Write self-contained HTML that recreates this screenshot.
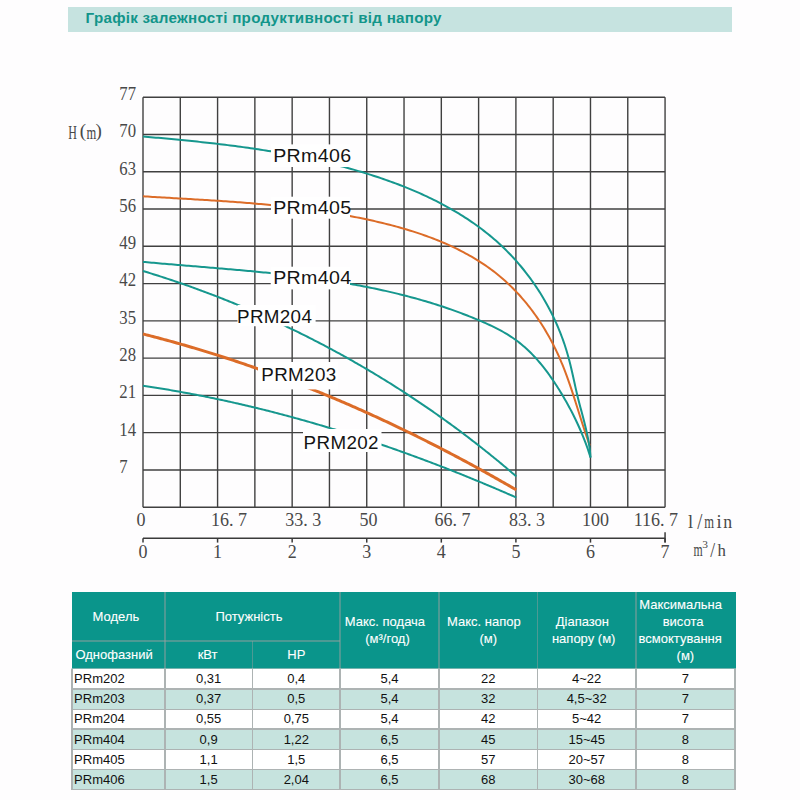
<!DOCTYPE html>
<html><head><meta charset="utf-8">
<style>
html,body{margin:0;padding:0;background:#fefdfe;width:800px;height:800px;overflow:hidden;position:relative}
.title{position:absolute;left:68px;top:6.6px;width:663.5px;height:25px;background:#c6e3e0}
.title span{position:absolute;left:17.6px;top:2.7px;font:bold 15.2px "Liberation Sans",sans-serif;letter-spacing:0.26px;color:#12958a;white-space:nowrap}
.lb{font-family:"Liberation Sans",sans-serif;font-size:18px;fill:#141414}
.ax{font-family:"Liberation Serif",serif;font-size:18px;fill:#484848}
.hm{font-size:16px}
.c{position:absolute;box-sizing:border-box;display:flex;align-items:center;justify-content:center;text-align:center;font:13px/16.8px "Liberation Sans",sans-serif}
.ln{position:absolute}
</style></head><body>
<div class="title"><span>Графік залежності продуктивності від напору</span></div>
<svg width="800" height="800" viewBox="0 0 800 800" style="position:absolute;left:0;top:0">
<g stroke="#404040" stroke-width="1.4">
<line x1="143.00" y1="97.23" x2="143.00" y2="507.20"/>
<line x1="180.29" y1="97.23" x2="180.29" y2="507.20"/>
<line x1="217.58" y1="97.23" x2="217.58" y2="507.20"/>
<line x1="254.87" y1="97.23" x2="254.87" y2="507.20"/>
<line x1="292.16" y1="97.23" x2="292.16" y2="507.20"/>
<line x1="329.45" y1="97.23" x2="329.45" y2="507.20"/>
<line x1="366.74" y1="97.23" x2="366.74" y2="507.20"/>
<line x1="404.03" y1="97.23" x2="404.03" y2="507.20"/>
<line x1="441.32" y1="97.23" x2="441.32" y2="507.20"/>
<line x1="478.61" y1="97.23" x2="478.61" y2="507.20"/>
<line x1="515.90" y1="97.23" x2="515.90" y2="507.20"/>
<line x1="553.19" y1="97.23" x2="553.19" y2="507.20"/>
<line x1="590.48" y1="97.23" x2="590.48" y2="507.20"/>
<line x1="627.77" y1="97.23" x2="627.77" y2="507.20"/>
<line x1="665.06" y1="97.23" x2="665.06" y2="507.20"/>
<line x1="143.00" y1="507.20" x2="665.06" y2="507.20"/>
<line x1="143.00" y1="469.93" x2="665.06" y2="469.93"/>
<line x1="143.00" y1="432.66" x2="665.06" y2="432.66"/>
<line x1="143.00" y1="395.39" x2="665.06" y2="395.39"/>
<line x1="143.00" y1="358.12" x2="665.06" y2="358.12"/>
<line x1="143.00" y1="320.85" x2="665.06" y2="320.85"/>
<line x1="143.00" y1="283.58" x2="665.06" y2="283.58"/>
<line x1="143.00" y1="246.31" x2="665.06" y2="246.31"/>
<line x1="143.00" y1="209.04" x2="665.06" y2="209.04"/>
<line x1="143.00" y1="171.77" x2="665.06" y2="171.77"/>
<line x1="143.00" y1="134.50" x2="665.06" y2="134.50"/>
<line x1="143.00" y1="97.23" x2="665.06" y2="97.23"/>
</g>
<path d="M142.99,196.30 L145.38,196.44 L147.77,196.59 L150.16,196.73 L152.54,196.88 L154.92,197.02 L157.31,197.16 L159.69,197.30 L162.07,197.44 L164.44,197.58 L166.82,197.72 L169.20,197.85 L171.57,197.99 L173.94,198.13 L176.31,198.27 L178.68,198.40 L181.05,198.54 L183.42,198.68 L185.79,198.82 L188.15,198.96 L190.52,199.10 L192.88,199.24 L195.24,199.38 L197.60,199.52 L199.96,199.66 L202.32,199.81 L204.68,199.95 L207.04,200.10 L209.39,200.25 L211.75,200.40 L214.10,200.55 L216.46,200.71 L218.81,200.86 L221.16,201.02 L223.51,201.18 L225.86,201.34 L228.21,201.50 L230.56,201.67 L232.91,201.84 L235.26,202.01 L237.60,202.19 L239.95,202.36 L242.29,202.55 L244.64,202.73 L246.98,202.92 L249.32,203.11 L251.67,203.30 L254.01,203.50 L256.35,203.70 L258.69,203.90 L261.03,204.11 L263.37,204.32 L265.71,204.54 L268.05,204.76 L270.39,204.99 L272.73,205.22 L275.07,205.45 L277.41,205.69 L279.75,205.93 L282.08,206.18 L284.42,206.44 L286.76,206.70 L289.09,206.96 L291.43,207.23 L293.77,207.50 L296.10,207.78 L298.44,208.07 L300.77,208.36 L303.11,208.66 L305.45,208.96 L307.78,209.27 L310.12,209.59 L312.45,209.91 L314.79,210.24 L317.13,210.57 L319.46,210.91 L321.80,211.26 L324.13,211.61 L326.47,211.98 L328.81,212.34 L331.14,212.72 L333.48,213.10 L335.82,213.49 L338.15,213.89 L340.49,214.30 L342.83,214.71 L345.17,215.13 L347.50,215.56 L349.84,216.00 L352.18,216.44 L354.52,216.90 L356.86,217.36 L359.20,217.83 L361.54,218.31 L363.88,218.80 L366.22,219.29 L368.57,219.80 L370.91,220.31 L373.25,220.84 L375.59,221.37 L377.93,221.91 L380.27,222.47 L382.61,223.03 L384.95,223.60 L387.29,224.19 L389.62,224.78 L391.95,225.39 L394.28,226.01 L396.60,226.64 L398.92,227.28 L401.24,227.94 L403.55,228.60 L405.86,229.28 L408.17,229.98 L410.46,230.68 L412.76,231.40 L415.05,232.13 L417.33,232.88 L419.61,233.64 L421.88,234.41 L424.14,235.20 L426.39,236.00 L428.64,236.82 L430.88,237.66 L433.12,238.51 L435.34,239.37 L437.56,240.25 L439.76,241.15 L441.96,242.06 L444.15,242.99 L446.33,243.94 L448.49,244.90 L450.65,245.88 L452.80,246.88 L454.94,247.90 L457.06,248.93 L459.17,249.99 L461.27,251.06 L463.36,252.15 L465.44,253.26 L467.50,254.38 L469.55,255.53 L471.59,256.70 L473.61,257.88 L475.62,259.09 L477.61,260.32 L479.59,261.57 L481.55,262.83 L483.50,264.12 L485.44,265.43 L487.35,266.77 L489.26,268.12 L491.14,269.50 L493.01,270.90 L494.86,272.32 L496.69,273.76 L498.51,275.23 L500.30,276.71 L502.08,278.23 L503.84,279.76 L505.59,281.32 L507.31,282.90 L509.01,284.50 L510.70,286.12 L512.37,287.77 L514.02,289.43 L515.65,291.12 L517.26,292.82 L518.86,294.55 L520.43,296.29 L521.99,298.05 L523.52,299.84 L525.04,301.64 L526.54,303.45 L528.02,305.29 L529.48,307.14 L530.92,309.01 L532.35,310.90 L533.75,312.80 L535.13,314.72 L536.50,316.66 L537.84,318.61 L539.17,320.58 L540.48,322.56 L541.76,324.55 L543.03,326.56 L544.28,328.58 L545.51,330.62 L546.71,332.66 L547.90,334.73 L549.07,336.80 L550.22,338.88 L551.35,340.98 L552.46,343.09 L553.54,345.21 L554.61,347.34 L555.66,349.48 L556.69,351.63 L557.70,353.79 L558.68,355.96 L559.65,358.14 L560.60,360.32 L561.52,362.52 L562.43,364.72 L563.32,366.93 L564.20,369.15 L565.06,371.37 L565.90,373.60 L566.73,375.83 L567.54,378.07 L568.34,380.32 L569.13,382.57 L569.91,384.82 L570.68,387.08 L571.44,389.33 L572.19,391.60 L572.93,393.86 L573.66,396.12 L574.39,398.39 L575.12,400.66 L575.84,402.93 L576.55,405.19 L577.27,407.46 L577.98,409.73 L578.69,411.99 L579.40,414.25 L580.11,416.51 L580.82,418.77 L581.54,421.03 L582.25,423.28 L582.98,425.52 L583.70,427.77 L584.43,430.00 L585.17,432.24 L585.92,434.46 L586.67,436.68 L587.44,438.90 L588.21,441.11 L589.00,443.30 L589.79,445.50" stroke="#dc6c28" stroke-width="2.0" fill="none" stroke-linejoin="round"/>
<path d="M142.99,136.50 L145.58,136.72 L148.16,136.95 L150.74,137.18 L153.32,137.40 L155.90,137.63 L158.48,137.86 L161.06,138.10 L163.64,138.33 L166.21,138.57 L168.79,138.81 L171.36,139.05 L173.93,139.29 L176.51,139.53 L179.08,139.78 L181.65,140.03 L184.21,140.28 L186.78,140.54 L189.35,140.80 L191.91,141.06 L194.48,141.33 L197.04,141.59 L199.60,141.87 L202.16,142.14 L204.72,142.42 L207.28,142.70 L209.84,142.99 L212.39,143.28 L214.95,143.58 L217.50,143.88 L220.05,144.18 L222.61,144.49 L225.16,144.80 L227.71,145.12 L230.25,145.44 L232.80,145.77 L235.35,146.10 L237.89,146.44 L240.43,146.78 L242.98,147.13 L245.52,147.49 L248.06,147.85 L250.60,148.21 L253.13,148.59 L255.67,148.96 L258.20,149.35 L260.74,149.74 L263.27,150.13 L265.80,150.54 L268.33,150.95 L270.86,151.36 L273.39,151.79 L275.91,152.22 L278.44,152.65 L280.96,153.10 L283.48,153.55 L286.01,154.01 L288.53,154.48 L291.04,154.95 L293.56,155.43 L296.08,155.92 L298.59,156.42 L301.10,156.93 L303.62,157.44 L306.13,157.97 L308.64,158.50 L311.15,159.04 L313.65,159.59 L316.16,160.14 L318.66,160.71 L321.16,161.29 L323.67,161.87 L326.17,162.47 L328.66,163.07 L331.16,163.68 L333.66,164.31 L336.15,164.94 L338.65,165.58 L341.14,166.23 L343.63,166.90 L346.12,167.57 L348.60,168.25 L351.09,168.95 L353.58,169.65 L356.06,170.37 L358.54,171.09 L361.02,171.83 L363.50,172.58 L365.98,173.34 L368.45,174.11 L370.93,174.89 L373.40,175.68 L375.87,176.49 L378.34,177.31 L380.80,178.14 L383.27,178.98 L385.72,179.83 L388.18,180.70 L390.63,181.58 L393.07,182.47 L395.51,183.38 L397.95,184.30 L400.38,185.23 L402.81,186.18 L405.23,187.14 L407.64,188.12 L410.05,189.11 L412.45,190.11 L414.84,191.13 L417.23,192.16 L419.61,193.21 L421.98,194.27 L424.34,195.35 L426.69,196.44 L429.04,197.55 L431.38,198.68 L433.70,199.82 L436.02,200.97 L438.33,202.15 L440.62,203.34 L442.91,204.54 L445.19,205.77 L447.45,207.01 L449.70,208.26 L451.95,209.54 L454.18,210.83 L456.39,212.14 L458.60,213.47 L460.79,214.81 L462.97,216.18 L465.13,217.56 L467.29,218.96 L469.42,220.38 L471.55,221.82 L473.65,223.27 L475.75,224.75 L477.83,226.25 L479.89,227.76 L481.94,229.30 L483.97,230.85 L485.98,232.43 L487.98,234.02 L489.96,235.64 L491.93,237.27 L493.87,238.93 L495.80,240.61 L497.71,242.31 L499.60,244.03 L501.48,245.77 L503.33,247.53 L505.17,249.32 L506.98,251.12 L508.78,252.95 L510.55,254.79 L512.31,256.66 L514.05,258.54 L515.77,260.44 L517.46,262.37 L519.14,264.31 L520.80,266.27 L522.43,268.25 L524.05,270.25 L525.64,272.26 L527.21,274.29 L528.77,276.34 L530.30,278.41 L531.80,280.49 L533.29,282.59 L534.75,284.71 L536.20,286.84 L537.62,288.99 L539.01,291.15 L540.39,293.33 L541.74,295.52 L543.07,297.73 L544.37,299.95 L545.66,302.19 L546.92,304.44 L548.15,306.70 L549.36,308.98 L550.55,311.27 L551.71,313.57 L552.85,315.88 L553.97,318.21 L555.06,320.55 L556.13,322.90 L557.17,325.26 L558.18,327.64 L559.17,330.02 L560.14,332.42 L561.08,334.82 L561.99,337.24 L562.88,339.66 L563.74,342.10 L564.58,344.54 L565.38,347.00 L566.17,349.46 L566.92,351.93 L567.65,354.41 L568.35,356.90 L569.03,359.39 L569.68,361.89 L570.31,364.40 L570.91,366.91 L571.50,369.43 L572.08,371.95 L572.65,374.48 L573.21,377.00 L573.76,379.53 L574.32,382.06 L574.87,384.58 L575.43,387.10 L576.00,389.62 L576.58,392.14 L577.17,394.65 L577.78,397.16 L578.41,399.66 L579.05,402.15 L579.70,404.65 L580.35,407.13 L581.01,409.62 L581.67,412.11 L582.33,414.59 L582.99,417.08 L583.64,419.56 L584.28,422.05 L584.90,424.54 L585.51,427.03 L586.10,429.53 L586.67,432.03 L587.21,434.54 L587.73,437.05 L588.21,439.58 L588.66,442.11 L589.08,444.64 L589.45,447.19 L589.79,449.75 L590.07,452.32 L590.31,454.90 L590.50,457.50" stroke="#16978e" stroke-width="2.0" fill="none" stroke-linejoin="round"/>
<path d="M143.01,261.88 L145.18,262.08 L147.35,262.28 L149.52,262.48 L151.69,262.67 L153.87,262.87 L156.04,263.06 L158.22,263.25 L160.40,263.44 L162.57,263.63 L164.75,263.81 L166.93,264.00 L169.12,264.19 L171.30,264.37 L173.48,264.55 L175.66,264.74 L177.85,264.92 L180.04,265.10 L182.22,265.28 L184.41,265.47 L186.60,265.65 L188.79,265.83 L190.98,266.01 L193.17,266.19 L195.36,266.37 L197.55,266.55 L199.74,266.73 L201.94,266.91 L204.13,267.09 L206.33,267.28 L208.52,267.46 L210.72,267.64 L212.91,267.83 L215.11,268.01 L217.30,268.20 L219.50,268.38 L221.70,268.57 L223.90,268.76 L226.09,268.95 L228.29,269.14 L230.49,269.33 L232.69,269.52 L234.89,269.71 L237.09,269.91 L239.29,270.11 L241.49,270.31 L243.68,270.51 L245.88,270.71 L248.08,270.91 L250.28,271.12 L252.48,271.33 L254.68,271.54 L256.88,271.75 L259.08,271.96 L261.28,272.18 L263.47,272.40 L265.67,272.62 L267.87,272.85 L270.07,273.07 L272.27,273.30 L274.46,273.54 L276.66,273.77 L278.86,274.01 L281.05,274.25 L283.25,274.50 L285.44,274.74 L287.64,274.99 L289.83,275.25 L292.02,275.51 L294.22,275.77 L296.41,276.03 L298.60,276.30 L300.79,276.57 L302.98,276.85 L305.17,277.13 L307.36,277.41 L309.55,277.70 L311.73,277.99 L313.92,278.29 L316.10,278.59 L318.29,278.89 L320.47,279.20 L322.65,279.51 L324.84,279.83 L327.02,280.15 L329.20,280.48 L331.37,280.81 L333.55,281.15 L335.73,281.49 L337.90,281.84 L340.08,282.19 L342.25,282.54 L344.42,282.91 L346.59,283.27 L348.76,283.65 L350.93,284.03 L353.09,284.41 L355.26,284.80 L357.42,285.20 L359.58,285.60 L361.74,286.00 L363.90,286.42 L366.06,286.84 L368.22,287.26 L370.37,287.69 L372.52,288.13 L374.67,288.57 L376.82,289.02 L378.97,289.48 L381.12,289.94 L383.26,290.41 L385.40,290.89 L387.54,291.37 L389.68,291.86 L391.82,292.36 L393.96,292.86 L396.09,293.37 L398.22,293.89 L400.35,294.42 L402.48,294.95 L404.60,295.49 L406.72,296.04 L408.85,296.60 L410.96,297.16 L413.08,297.73 L415.20,298.31 L417.31,298.89 L419.42,299.49 L421.53,300.09 L423.63,300.70 L425.74,301.32 L427.84,301.95 L429.94,302.58 L432.03,303.23 L434.13,303.88 L436.22,304.54 L438.31,305.21 L440.39,305.88 L442.48,306.57 L444.56,307.27 L446.64,307.97 L448.71,308.69 L450.79,309.41 L452.86,310.14 L454.93,310.88 L456.99,311.63 L459.05,312.39 L461.11,313.16 L463.17,313.94 L465.23,314.73 L467.28,315.52 L469.33,316.33 L471.37,317.15 L473.41,317.98 L475.45,318.82 L477.49,319.66 L479.52,320.52 L481.55,321.39 L483.58,322.27 L485.60,323.17 L487.61,324.07 L489.61,325.00 L491.61,325.94 L493.59,326.90 L495.56,327.88 L497.52,328.87 L499.47,329.89 L501.40,330.94 L503.31,332.00 L505.20,333.10 L507.08,334.21 L508.94,335.36 L510.77,336.54 L512.59,337.74 L514.38,338.98 L516.15,340.24 L517.89,341.55 L519.60,342.88 L521.30,344.24 L522.96,345.64 L524.61,347.06 L526.23,348.52 L527.83,350.00 L529.40,351.51 L530.96,353.04 L532.49,354.60 L534.00,356.19 L535.49,357.79 L536.96,359.43 L538.41,361.08 L539.84,362.75 L541.25,364.45 L542.64,366.16 L544.02,367.89 L545.37,369.64 L546.71,371.41 L548.03,373.20 L549.33,374.99 L550.62,376.81 L551.89,378.63 L553.15,380.47 L554.39,382.32 L555.61,384.18 L556.82,386.06 L558.02,387.94 L559.20,389.83 L560.37,391.73 L561.53,393.64 L562.67,395.55 L563.80,397.47 L564.91,399.40 L566.01,401.33 L567.10,403.27 L568.18,405.22 L569.24,407.17 L570.29,409.13 L571.32,411.09 L572.34,413.06 L573.34,415.03 L574.32,417.01 L575.30,419.00 L576.25,420.99 L577.19,422.98 L578.12,424.98 L579.02,426.98 L579.91,428.99 L580.79,431.00 L581.64,433.02 L582.48,435.04 L583.31,437.06 L584.11,439.09 L584.90,441.12 L585.66,443.16 L586.41,445.20 L587.14,447.24 L587.86,449.28 L588.55,451.33 L589.22,453.38 L589.88,455.44 L590.51,457.49" stroke="#16978e" stroke-width="2.0" fill="none" stroke-linejoin="round"/>
<path d="M143.00,271.00 L144.72,271.52 L146.44,272.05 L148.15,272.58 L149.87,273.11 L151.59,273.64 L153.30,274.18 L155.01,274.72 L156.73,275.27 L158.44,275.81 L160.15,276.36 L161.86,276.91 L163.57,277.47 L165.27,278.03 L166.98,278.59 L168.69,279.15 L170.39,279.72 L172.09,280.29 L173.80,280.87 L175.50,281.44 L177.20,282.02 L178.90,282.60 L180.60,283.19 L182.29,283.78 L183.99,284.37 L185.68,284.96 L187.38,285.56 L189.07,286.16 L190.76,286.76 L192.45,287.37 L194.14,287.98 L195.83,288.59 L197.52,289.21 L199.21,289.82 L200.89,290.45 L202.57,291.07 L204.26,291.70 L205.94,292.33 L207.62,292.96 L209.30,293.59 L210.98,294.23 L212.66,294.87 L214.33,295.52 L216.01,296.17 L217.68,296.82 L219.35,297.47 L221.03,298.13 L222.70,298.78 L224.37,299.45 L226.03,300.11 L227.70,300.78 L229.37,301.45 L231.03,302.12 L232.69,302.80 L234.36,303.48 L236.02,304.16 L237.68,304.85 L239.34,305.53 L240.99,306.23 L242.65,306.92 L244.30,307.62 L245.96,308.32 L247.61,309.02 L249.26,309.72 L250.91,310.43 L252.56,311.14 L254.21,311.86 L255.85,312.57 L257.50,313.29 L259.14,314.02 L260.79,314.74 L262.43,315.47 L264.07,316.20 L265.71,316.93 L267.34,317.67 L268.98,318.41 L270.61,319.15 L272.25,319.90 L273.88,320.65 L275.51,321.40 L277.14,322.15 L278.77,322.91 L280.39,323.67 L282.02,324.43 L283.64,325.19 L285.27,325.96 L286.89,326.73 L288.51,327.51 L290.13,328.28 L291.74,329.06 L293.36,329.85 L294.97,330.63 L296.59,331.42 L298.20,332.21 L299.81,333.00 L301.42,333.80 L303.03,334.60 L304.63,335.40 L306.24,336.20 L307.84,337.01 L309.44,337.82 L311.04,338.63 L312.64,339.45 L314.24,340.27 L315.84,341.09 L317.43,341.91 L319.03,342.74 L320.62,343.57 L322.21,344.40 L323.80,345.24 L325.39,346.07 L326.97,346.91 L328.56,347.76 L330.14,348.60 L331.72,349.45 L333.30,350.30 L334.88,351.16 L336.46,352.01 L338.03,352.87 L339.61,353.74 L341.18,354.60 L342.75,355.47 L344.32,356.34 L345.89,357.21 L347.46,358.09 L349.02,358.97 L350.59,359.85 L352.15,360.74 L353.71,361.62 L355.27,362.51 L356.83,363.40 L358.38,364.30 L359.94,365.20 L361.49,366.10 L363.04,367.00 L364.59,367.91 L366.14,368.82 L367.69,369.73 L369.23,370.64 L370.78,371.56 L372.32,372.48 L373.86,373.40 L375.40,374.33 L376.93,375.25 L378.47,376.18 L380.00,377.12 L381.54,378.05 L383.07,378.99 L384.59,379.93 L386.12,380.87 L387.65,381.82 L389.17,382.77 L390.69,383.72 L392.21,384.67 L393.73,385.63 L395.25,386.59 L396.77,387.55 L398.28,388.52 L399.79,389.49 L401.30,390.46 L402.81,391.43 L404.32,392.40 L405.83,393.38 L407.33,394.36 L408.83,395.35 L410.33,396.33 L411.83,397.32 L413.33,398.31 L414.82,399.31 L416.32,400.30 L417.81,401.30 L419.30,402.30 L420.79,403.31 L422.27,404.31 L423.76,405.32 L425.24,406.33 L426.72,407.35 L428.20,408.37 L429.68,409.39 L431.16,410.41 L432.63,411.43 L434.10,412.46 L435.57,413.49 L437.04,414.52 L438.51,415.56 L439.98,416.60 L441.44,417.64 L442.90,418.68 L444.36,419.73 L445.82,420.77 L447.28,421.83 L448.73,422.88 L450.18,423.93 L451.63,424.99 L453.08,426.05 L454.53,427.12 L455.97,428.18 L457.42,429.25 L458.86,430.32 L460.30,431.40 L461.74,432.47 L463.17,433.55 L464.61,434.63 L466.04,435.72 L467.47,436.80 L468.90,437.89 L470.32,438.99 L471.75,440.08 L473.17,441.18 L474.59,442.27 L476.01,443.38 L477.43,444.48 L478.84,445.59 L480.25,446.70 L481.66,447.81 L483.07,448.92 L484.48,450.04 L485.89,451.16 L487.29,452.28 L488.69,453.40 L490.09,454.53 L491.49,455.66 L492.88,456.79 L494.28,457.92 L495.67,459.06 L497.06,460.20 L498.44,461.34 L499.83,462.49 L501.21,463.63 L502.59,464.78 L503.97,465.93 L505.35,467.09 L506.73,468.24 L508.10,469.40 L509.47,470.56 L510.84,471.73 L512.21,472.89 L513.57,474.06 L514.93,475.23 L516.30,476.41" stroke="#16978e" stroke-width="2.0" fill="none" stroke-linejoin="round"/>
<path d="M143.00,334.00 L144.65,334.41 L146.30,334.83 L147.94,335.25 L149.59,335.67 L151.23,336.10 L152.88,336.52 L154.52,336.95 L156.17,337.39 L157.81,337.82 L159.45,338.26 L161.10,338.69 L162.74,339.13 L164.38,339.58 L166.02,340.02 L167.66,340.47 L169.29,340.92 L170.93,341.37 L172.57,341.82 L174.21,342.28 L175.84,342.74 L177.48,343.20 L179.11,343.66 L180.75,344.13 L182.38,344.59 L184.01,345.06 L185.64,345.53 L187.27,346.01 L188.90,346.48 L190.53,346.96 L192.16,347.44 L193.79,347.93 L195.42,348.41 L197.05,348.90 L198.67,349.39 L200.30,349.88 L201.92,350.37 L203.55,350.87 L205.17,351.36 L206.79,351.86 L208.42,352.37 L210.04,352.87 L211.66,353.38 L213.28,353.88 L214.90,354.39 L216.52,354.91 L218.13,355.42 L219.75,355.94 L221.37,356.46 L222.98,356.98 L224.60,357.50 L226.21,358.03 L227.83,358.55 L229.44,359.08 L231.05,359.62 L232.66,360.15 L234.28,360.69 L235.89,361.22 L237.50,361.76 L239.10,362.31 L240.71,362.85 L242.32,363.40 L243.93,363.94 L245.53,364.49 L247.14,365.05 L248.74,365.60 L250.35,366.16 L251.95,366.72 L253.55,367.28 L255.15,367.84 L256.76,368.40 L258.36,368.97 L259.96,369.54 L261.55,370.11 L263.15,370.68 L264.75,371.26 L266.35,371.83 L267.94,372.41 L269.54,372.99 L271.13,373.57 L272.73,374.16 L274.32,374.75 L275.91,375.33 L277.50,375.93 L279.10,376.52 L280.69,377.11 L282.28,377.71 L283.86,378.31 L285.45,378.91 L287.04,379.51 L288.63,380.11 L290.21,380.72 L291.80,381.33 L293.38,381.94 L294.96,382.55 L296.55,383.17 L298.13,383.78 L299.71,384.40 L301.29,385.02 L302.87,385.64 L304.45,386.27 L306.03,386.89 L307.61,387.52 L309.18,388.15 L310.76,388.78 L312.34,389.41 L313.91,390.05 L315.48,390.69 L317.06,391.32 L318.63,391.97 L320.20,392.61 L321.77,393.25 L323.34,393.90 L324.91,394.55 L326.48,395.20 L328.05,395.85 L329.62,396.50 L331.18,397.16 L332.75,397.82 L334.31,398.48 L335.88,399.14 L337.44,399.80 L339.00,400.47 L340.56,401.13 L342.13,401.80 L343.69,402.47 L345.25,403.14 L346.80,403.82 L348.36,404.49 L349.92,405.17 L351.48,405.85 L353.03,406.53 L354.59,407.22 L356.14,407.90 L357.69,408.59 L359.25,409.28 L360.80,409.97 L362.35,410.66 L363.90,411.35 L365.45,412.05 L367.00,412.75 L368.55,413.44 L370.09,414.15 L371.64,414.85 L373.18,415.55 L374.73,416.26 L376.27,416.97 L377.82,417.68 L379.36,418.39 L380.90,419.10 L382.44,419.82 L383.98,420.53 L385.52,421.25 L387.06,421.97 L388.60,422.69 L390.13,423.42 L391.67,424.14 L393.20,424.87 L394.74,425.60 L396.27,426.33 L397.81,427.06 L399.34,427.79 L400.87,428.53 L402.40,429.26 L403.93,430.00 L405.46,430.74 L406.99,431.48 L408.51,432.23 L410.04,432.97 L411.57,433.72 L413.09,434.47 L414.61,435.22 L416.14,435.97 L417.66,436.73 L419.18,437.48 L420.70,438.24 L422.22,439.00 L423.74,439.76 L425.26,440.52 L426.78,441.28 L428.29,442.05 L429.81,442.81 L431.32,443.58 L432.84,444.35 L434.35,445.12 L435.86,445.89 L437.38,446.67 L438.89,447.45 L440.40,448.22 L441.91,449.00 L443.42,449.78 L444.92,450.57 L446.43,451.35 L447.94,452.14 L449.44,452.92 L450.95,453.71 L452.45,454.50 L453.95,455.29 L455.45,456.09 L456.95,456.88 L458.45,457.68 L459.95,458.48 L461.45,459.28 L462.95,460.08 L464.45,460.88 L465.94,461.68 L467.44,462.49 L468.93,463.30 L470.43,464.10 L471.92,464.91 L473.41,465.73 L474.90,466.54 L476.39,467.35 L477.88,468.17 L479.37,468.99 L480.86,469.81 L482.34,470.63 L483.83,471.45 L485.31,472.27 L486.80,473.10 L488.28,473.92 L489.76,474.75 L491.25,475.58 L492.73,476.41 L494.21,477.24 L495.68,478.08 L497.16,478.91 L498.64,479.75 L500.12,480.59 L501.59,481.43 L503.07,482.27 L504.54,483.11 L506.01,483.95 L507.49,484.80 L508.96,485.65 L510.43,486.49 L511.90,487.34 L513.36,488.19 L514.83,489.05 L516.30,489.90" stroke="#dc6c28" stroke-width="3.0" fill="none" stroke-linejoin="round"/>
<path d="M143.00,385.75 L144.62,385.99 L146.24,386.23 L147.86,386.48 L149.47,386.72 L151.09,386.97 L152.71,387.22 L154.33,387.47 L155.94,387.73 L157.56,387.99 L159.17,388.25 L160.79,388.51 L162.41,388.77 L164.02,389.04 L165.63,389.31 L167.25,389.58 L168.86,389.85 L170.47,390.13 L172.09,390.40 L173.70,390.68 L175.31,390.96 L176.92,391.25 L178.53,391.53 L180.14,391.82 L181.75,392.11 L183.36,392.40 L184.97,392.70 L186.58,392.99 L188.19,393.29 L189.79,393.59 L191.40,393.90 L193.01,394.20 L194.61,394.51 L196.22,394.82 L197.82,395.13 L199.43,395.44 L201.03,395.76 L202.64,396.07 L204.24,396.39 L205.84,396.71 L207.45,397.04 L209.05,397.36 L210.65,397.69 L212.25,398.02 L213.85,398.35 L215.45,398.69 L217.05,399.02 L218.65,399.36 L220.25,399.70 L221.85,400.05 L223.45,400.39 L225.05,400.74 L226.64,401.08 L228.24,401.43 L229.84,401.79 L231.43,402.14 L233.03,402.50 L234.62,402.86 L236.22,403.22 L237.81,403.58 L239.41,403.94 L241.00,404.31 L242.59,404.68 L244.18,405.05 L245.78,405.42 L247.37,405.80 L248.96,406.17 L250.55,406.55 L252.14,406.93 L253.73,407.31 L255.32,407.70 L256.91,408.08 L258.49,408.47 L260.08,408.86 L261.67,409.25 L263.25,409.65 L264.84,410.04 L266.43,410.44 L268.01,410.84 L269.60,411.24 L271.18,411.65 L272.76,412.05 L274.35,412.46 L275.93,412.87 L277.51,413.28 L279.09,413.69 L280.67,414.11 L282.26,414.52 L283.84,414.94 L285.42,415.36 L286.99,415.79 L288.57,416.21 L290.15,416.64 L291.73,417.07 L293.31,417.50 L294.88,417.93 L296.46,418.36 L298.04,418.80 L299.61,419.23 L301.19,419.67 L302.76,420.11 L304.33,420.56 L305.91,421.00 L307.48,421.45 L309.05,421.90 L310.62,422.35 L312.20,422.80 L313.77,423.25 L315.34,423.71 L316.91,424.17 L318.48,424.63 L320.04,425.09 L321.61,425.55 L323.18,426.02 L324.75,426.48 L326.31,426.95 L327.88,427.42 L329.45,427.89 L331.01,428.37 L332.58,428.84 L334.14,429.32 L335.70,429.80 L337.27,430.28 L338.83,430.76 L340.39,431.24 L341.95,431.73 L343.51,432.22 L345.07,432.71 L346.63,433.20 L348.19,433.69 L349.75,434.18 L351.31,434.68 L352.87,435.18 L354.42,435.68 L355.98,436.18 L357.54,436.68 L359.09,437.19 L360.65,437.69 L362.20,438.20 L363.76,438.71 L365.31,439.22 L366.86,439.74 L368.42,440.25 L369.97,440.77 L371.52,441.28 L373.07,441.80 L374.62,442.33 L376.17,442.85 L377.72,443.37 L379.27,443.90 L380.82,444.43 L382.36,444.96 L383.91,445.49 L385.46,446.02 L387.00,446.56 L388.55,447.09 L390.09,447.63 L391.64,448.17 L393.18,448.71 L394.72,449.25 L396.27,449.80 L397.81,450.34 L399.35,450.89 L400.89,451.44 L402.43,451.99 L403.97,452.54 L405.51,453.10 L407.05,453.65 L408.59,454.21 L410.12,454.77 L411.66,455.33 L413.20,455.89 L414.73,456.45 L416.27,457.02 L417.80,457.58 L419.34,458.15 L420.87,458.72 L422.40,459.29 L423.94,459.86 L425.47,460.44 L427.00,461.01 L428.53,461.59 L430.06,462.17 L431.59,462.75 L433.12,463.33 L434.65,463.91 L436.18,464.49 L437.70,465.08 L439.23,465.67 L440.76,466.26 L442.28,466.85 L443.81,467.44 L445.33,468.03 L446.85,468.63 L448.38,469.22 L449.90,469.82 L451.42,470.42 L452.94,471.02 L454.46,471.62 L455.98,472.23 L457.50,472.83 L459.02,473.44 L460.54,474.04 L462.06,474.65 L463.58,475.26 L465.09,475.88 L466.61,476.49 L468.13,477.10 L469.64,477.72 L471.15,478.34 L472.67,478.96 L474.18,479.58 L475.69,480.20 L477.21,480.82 L478.72,481.45 L480.23,482.07 L481.74,482.70 L483.25,483.33 L484.76,483.96 L486.26,484.59 L487.77,485.22 L489.28,485.86 L490.78,486.49 L492.29,487.13 L493.80,487.77 L495.30,488.41 L496.80,489.05 L498.31,489.69 L499.81,490.34 L501.31,490.98 L502.81,491.63 L504.31,492.27 L505.81,492.92 L507.31,493.57 L508.81,494.22 L510.31,494.88 L511.81,495.53 L513.31,496.19 L514.80,496.84 L516.30,497.50" stroke="#16978e" stroke-width="2.0" fill="none" stroke-linejoin="round"/>
<rect x="271" y="144.4" width="79" height="22.6" fill="#fff"/>
<text transform="translate(273.2,162.3) scale(1.09,1)" class="lb" style="letter-spacing:0.3px">PRm406</text>
<rect x="271" y="196.7" width="79" height="22" fill="#fff"/>
<text transform="translate(273.2,213.9) scale(1.09,1)" class="lb" style="letter-spacing:0.3px">PRm405</text>
<rect x="270.7" y="266.7" width="79.3" height="22.7" fill="#fff"/>
<text transform="translate(273.2,283.9) scale(1.09,1)" class="lb" style="letter-spacing:0.3px">PRm404</text>
<rect x="237.5" y="305" width="78.1" height="21.25" fill="#fff"/>
<text transform="translate(237.0,322.5) scale(1.045,1)" class="lb" style="letter-spacing:0.33px">PRM204</text>
<rect x="258" y="362" width="80" height="27.4" fill="#fff"/>
<text transform="translate(261.3,381.25) scale(1.045,1)" class="lb" style="letter-spacing:0.33px">PRM203</text>
<rect x="303" y="429" width="78.5" height="23" fill="#fff"/>
<text transform="translate(303.6,448.5) scale(1.045,1)" class="lb" style="letter-spacing:0.33px">PRM202</text>
<text transform="translate(119.3,472.83) scale(0.93,1)" class="ax">7</text>
<text transform="translate(119.3,435.56) scale(0.93,1)" class="ax">14</text>
<text transform="translate(119.3,398.29) scale(0.93,1)" class="ax">21</text>
<text transform="translate(119.3,361.02) scale(0.93,1)" class="ax">28</text>
<text transform="translate(119.3,323.75) scale(0.93,1)" class="ax">35</text>
<text transform="translate(119.3,286.48) scale(0.93,1)" class="ax">42</text>
<text transform="translate(119.3,249.21) scale(0.93,1)" class="ax">49</text>
<text transform="translate(119.3,211.94) scale(0.93,1)" class="ax">56</text>
<text transform="translate(119.3,174.67) scale(0.93,1)" class="ax">63</text>
<text transform="translate(119.3,137.40) scale(0.93,1)" class="ax">70</text>
<text transform="translate(119.3,100.13) scale(0.93,1)" class="ax">77</text>
<text x="136.5" y="525.8" class="ax">0</text>
<text x="211" y="525.8" class="ax">16. 7</text>
<text x="285.25" y="525.8" class="ax">33. 3</text>
<text x="359.5" y="525.8" class="ax">50</text>
<text x="434.4" y="525.8" class="ax">66. 7</text>
<text x="509" y="525.8" class="ax">83. 3</text>
<text x="582" y="525.8" class="ax">100</text>
<text x="633.7" y="525.8" class="ax">116. 7</text>
<text x="143.00" y="558.2" class="ax" text-anchor="middle">0</text>
<text x="217.58" y="558.2" class="ax" text-anchor="middle">1</text>
<text x="292.16" y="558.2" class="ax" text-anchor="middle">2</text>
<text x="366.74" y="558.2" class="ax" text-anchor="middle">3</text>
<text x="441.32" y="558.2" class="ax" text-anchor="middle">4</text>
<text x="515.90" y="558.2" class="ax" text-anchor="middle">5</text>
<text x="590.48" y="558.2" class="ax" text-anchor="middle">6</text>
<text x="665.06" y="558.2" class="ax" text-anchor="middle">7</text>
<g stroke="#3a3a3a" stroke-width="1.5">
<line x1="143.00" y1="538.2" x2="665.06" y2="538.2"/>
<line x1="143.00" y1="538.2" x2="143.00" y2="542.6"/>
<line x1="217.58" y1="538.2" x2="217.58" y2="542.6"/>
<line x1="292.16" y1="538.2" x2="292.16" y2="542.6"/>
<line x1="366.74" y1="538.2" x2="366.74" y2="542.6"/>
<line x1="441.32" y1="538.2" x2="441.32" y2="542.6"/>
<line x1="515.90" y1="538.2" x2="515.90" y2="542.6"/>
<line x1="590.48" y1="538.2" x2="590.48" y2="542.6"/>
<line x1="665.06" y1="538.2" x2="665.06" y2="542.6"/>
<line x1="665.06" y1="532.3" x2="665.06" y2="542.6"/>
</g>
<text transform="translate(72.5,139.0) scale(0.63,1)" class="ax" text-anchor="middle" style="font-size:19px">H</text>
<text transform="translate(82.9,136.5) scale(1.0,1)" class="ax" text-anchor="middle" style="font-size:19px">(</text>
<text transform="translate(91.25,139.0) scale(0.66,1)" class="ax" text-anchor="middle" style="font-size:19px">m</text>
<text transform="translate(98.75,136.5) scale(1.0,1)" class="ax" text-anchor="middle" style="font-size:19px">)</text>
<text transform="translate(690.5,527.9) scale(1.0,1)" class="ax" text-anchor="middle" style="font-size:18.5px">l</text>
<text transform="translate(699.9,528.9) scale(1.0,1.2)" class="ax" text-anchor="middle" style="font-size:18.5px">/</text>
<text transform="translate(709.1,527.9) scale(0.68,1)" class="ax" text-anchor="middle" style="font-size:18.5px">m</text>
<text transform="translate(719,527.9) scale(1.0,1)" class="ax" text-anchor="middle" style="font-size:18.5px">i</text>
<text transform="translate(727.6,527.9) scale(0.96,1)" class="ax" text-anchor="middle" style="font-size:18.5px">n</text>
<text transform="translate(698,555.8) scale(0.62,1)" class="ax" text-anchor="middle" style="font-size:19px">m</text>
<text transform="translate(705,548.1) scale(1.0,1)" class="ax" text-anchor="middle" style="font-size:11.4px">3</text>
<text transform="translate(712.6,557.0) scale(1.0,1.25)" class="ax" text-anchor="middle" style="font-size:17.5px">/</text>
<text transform="translate(721.6,555.6) scale(0.96,1)" class="ax" text-anchor="middle" style="font-size:17.5px">h</text>
</svg>
<div class="c" style="left:71.50px;top:592.40px;width:664.00px;height:76.30px;background:#0a958b;"><div></div></div>
<div class="c" style="left:71.50px;top:668.70px;width:664.00px;height:20.10px;background:#ffffff;"><div></div></div>
<div class="c" style="left:71.50px;top:688.80px;width:664.00px;height:20.50px;background:#c6e3de;"><div></div></div>
<div class="c" style="left:71.50px;top:709.30px;width:664.00px;height:19.80px;background:#ffffff;"><div></div></div>
<div class="c" style="left:71.50px;top:729.10px;width:664.00px;height:20.50px;background:#c6e3de;"><div></div></div>
<div class="c" style="left:71.50px;top:749.60px;width:664.00px;height:19.80px;background:#ffffff;"><div></div></div>
<div class="c" style="left:71.50px;top:769.40px;width:664.00px;height:19.90px;background:#c6e3de;"><div></div></div>
<div class="ln" style="left:71.90px;top:640.00px;width:268.20px;height:1.5px;background:rgba(160,160,160,0.45)"></div>
<div class="ln" style="left:164.00px;top:592.40px;width:1.5px;height:76.30px;background:rgba(160,160,160,0.45)"></div>
<div class="ln" style="left:339.35px;top:592.40px;width:1.5px;height:76.30px;background:rgba(160,160,160,0.45)"></div>
<div class="ln" style="left:438.25px;top:592.40px;width:1.5px;height:76.30px;background:rgba(160,160,160,0.45)"></div>
<div class="ln" style="left:536.65px;top:592.40px;width:1.5px;height:76.30px;background:rgba(160,160,160,0.45)"></div>
<div class="ln" style="left:635.25px;top:592.40px;width:1.5px;height:76.30px;background:rgba(160,160,160,0.45)"></div>
<div class="ln" style="left:251.75px;top:640.75px;width:1.5px;height:27.95px;background:rgba(160,160,160,0.45)"></div>
<div class="ln" style="left:71.15px;top:668.70px;width:1.5px;height:121.35px;background:#adb3b3"></div>
<div class="ln" style="left:164.00px;top:668.70px;width:1.5px;height:121.35px;background:#adb3b3"></div>
<div class="ln" style="left:251.75px;top:668.70px;width:1.5px;height:121.35px;background:#adb3b3"></div>
<div class="ln" style="left:339.35px;top:668.70px;width:1.5px;height:121.35px;background:#adb3b3"></div>
<div class="ln" style="left:438.25px;top:668.70px;width:1.5px;height:121.35px;background:#adb3b3"></div>
<div class="ln" style="left:536.65px;top:668.70px;width:1.5px;height:121.35px;background:#adb3b3"></div>
<div class="ln" style="left:635.25px;top:668.70px;width:1.5px;height:121.35px;background:#adb3b3"></div>
<div class="ln" style="left:734.05px;top:668.70px;width:1.5px;height:121.35px;background:#adb3b3"></div>
<div class="ln" style="left:71.15px;top:688.05px;width:664.40px;height:1.5px;background:#adb3b3"></div>
<div class="ln" style="left:71.15px;top:708.55px;width:664.40px;height:1.5px;background:#adb3b3"></div>
<div class="ln" style="left:71.15px;top:728.35px;width:664.40px;height:1.5px;background:#adb3b3"></div>
<div class="ln" style="left:71.15px;top:748.85px;width:664.40px;height:1.5px;background:#adb3b3"></div>
<div class="ln" style="left:71.15px;top:768.65px;width:664.40px;height:1.5px;background:#adb3b3"></div>
<div class="ln" style="left:71.15px;top:788.55px;width:664.40px;height:1.5px;background:#adb3b3"></div>
<div class="ln" style="left:71.15px;top:667.95px;width:664.40px;height:1.5px;background:rgba(190,200,200,0.6)"></div>
<div class="c" style="left:71.90px;top:592.40px;width:92.85px;height:48.35px;background:transparent;color:#fff;-webkit-text-stroke:0.1px #fff;padding-top:2px;"><div><span style="position:relative;left:-2.4px">Модель</span></div></div>
<div class="c" style="left:164.75px;top:592.40px;width:175.35px;height:48.35px;background:transparent;color:#fff;-webkit-text-stroke:0.1px #fff;padding-top:2px;"><div><span style="position:relative;left:-3.5px">Потужність</span></div></div>
<div class="c" style="left:71.90px;top:640.75px;width:92.85px;height:27.95px;background:transparent;color:#fff;-webkit-text-stroke:0.1px #fff;justify-content:flex-start;padding-left:3.5px;padding-top:1.5px;"><div>Однофазний</div></div>
<div class="c" style="left:164.75px;top:640.75px;width:87.75px;height:27.95px;background:transparent;color:#fff;-webkit-text-stroke:0.1px #fff;padding-top:1.5px;"><div><span style="position:relative;left:-1px">кВт</span></div></div>
<div class="c" style="left:252.50px;top:640.75px;width:87.60px;height:27.95px;background:transparent;color:#fff;-webkit-text-stroke:0.1px #fff;padding-top:1.5px;"><div>HP</div></div>
<div class="c" style="left:340.10px;top:592.40px;width:98.90px;height:76.30px;background:transparent;color:#fff;-webkit-text-stroke:0.1px #fff;"><div><span style="position:relative;left:-4.6px">Макс. подача</span><br><span style="position:relative;left:-2px">(м³/год)</span></div></div>
<div class="c" style="left:439.00px;top:592.40px;width:98.40px;height:76.30px;background:transparent;color:#fff;-webkit-text-stroke:0.1px #fff;"><div><span style="position:relative;left:-4.3px">Макс. напор</span><br>(м)</div></div>
<div class="c" style="left:537.40px;top:592.40px;width:98.60px;height:76.30px;background:transparent;color:#fff;-webkit-text-stroke:0.1px #fff;"><div><span style="position:relative;left:-4.3px">Діапазон</span><br><span style="position:relative;left:-3px">напору (м)</span></div></div>
<div class="c" style="left:636.00px;top:592.40px;width:98.80px;height:76.30px;background:transparent;color:#fff;-webkit-text-stroke:0.1px #fff;padding-top:1px;"><div><span style="position:relative;left:-4.8px">Максимальна</span><br><span style="position:relative;left:-2.3px">висота</span><br><span style="position:relative;left:-5.2px">всмоктування</span><br>(м)</div></div>
<div class="c" style="left:71.90px;top:668.70px;width:92.85px;height:20.10px;background:transparent;color:#111;padding-top:1.4px;justify-content:flex-start;padding-left:2.2px;"><div>PRm202</div></div>
<div class="c" style="left:164.75px;top:668.70px;width:87.75px;height:20.10px;background:transparent;color:#111;padding-top:1.4px;"><div>0,31</div></div>
<div class="c" style="left:252.50px;top:668.70px;width:87.60px;height:20.10px;background:transparent;color:#111;padding-top:1.4px;"><div>0,4</div></div>
<div class="c" style="left:340.10px;top:668.70px;width:98.90px;height:20.10px;background:transparent;color:#111;padding-top:1.4px;"><div>5,4</div></div>
<div class="c" style="left:439.00px;top:668.70px;width:98.40px;height:20.10px;background:transparent;color:#111;padding-top:1.4px;"><div>22</div></div>
<div class="c" style="left:537.40px;top:668.70px;width:98.60px;height:20.10px;background:transparent;color:#111;padding-top:1.4px;"><div>4~22</div></div>
<div class="c" style="left:636.00px;top:668.70px;width:98.80px;height:20.10px;background:transparent;color:#111;padding-top:1.4px;"><div>7</div></div>
<div class="c" style="left:71.90px;top:688.80px;width:92.85px;height:20.50px;background:transparent;color:#111;padding-top:1.4px;justify-content:flex-start;padding-left:2.2px;"><div>PRm203</div></div>
<div class="c" style="left:164.75px;top:688.80px;width:87.75px;height:20.50px;background:transparent;color:#111;padding-top:1.4px;"><div>0,37</div></div>
<div class="c" style="left:252.50px;top:688.80px;width:87.60px;height:20.50px;background:transparent;color:#111;padding-top:1.4px;"><div>0,5</div></div>
<div class="c" style="left:340.10px;top:688.80px;width:98.90px;height:20.50px;background:transparent;color:#111;padding-top:1.4px;"><div>5,4</div></div>
<div class="c" style="left:439.00px;top:688.80px;width:98.40px;height:20.50px;background:transparent;color:#111;padding-top:1.4px;"><div>32</div></div>
<div class="c" style="left:537.40px;top:688.80px;width:98.60px;height:20.50px;background:transparent;color:#111;padding-top:1.4px;"><div>4,5~32</div></div>
<div class="c" style="left:636.00px;top:688.80px;width:98.80px;height:20.50px;background:transparent;color:#111;padding-top:1.4px;"><div>7</div></div>
<div class="c" style="left:71.90px;top:709.30px;width:92.85px;height:19.80px;background:transparent;color:#111;padding-top:1.4px;justify-content:flex-start;padding-left:2.2px;"><div>PRm204</div></div>
<div class="c" style="left:164.75px;top:709.30px;width:87.75px;height:19.80px;background:transparent;color:#111;padding-top:1.4px;"><div>0,55</div></div>
<div class="c" style="left:252.50px;top:709.30px;width:87.60px;height:19.80px;background:transparent;color:#111;padding-top:1.4px;"><div>0,75</div></div>
<div class="c" style="left:340.10px;top:709.30px;width:98.90px;height:19.80px;background:transparent;color:#111;padding-top:1.4px;"><div>5,4</div></div>
<div class="c" style="left:439.00px;top:709.30px;width:98.40px;height:19.80px;background:transparent;color:#111;padding-top:1.4px;"><div>42</div></div>
<div class="c" style="left:537.40px;top:709.30px;width:98.60px;height:19.80px;background:transparent;color:#111;padding-top:1.4px;"><div>5~42</div></div>
<div class="c" style="left:636.00px;top:709.30px;width:98.80px;height:19.80px;background:transparent;color:#111;padding-top:1.4px;"><div>7</div></div>
<div class="c" style="left:71.90px;top:729.10px;width:92.85px;height:20.50px;background:transparent;color:#111;padding-top:1.4px;justify-content:flex-start;padding-left:2.2px;"><div>PRm404</div></div>
<div class="c" style="left:164.75px;top:729.10px;width:87.75px;height:20.50px;background:transparent;color:#111;padding-top:1.4px;"><div>0,9</div></div>
<div class="c" style="left:252.50px;top:729.10px;width:87.60px;height:20.50px;background:transparent;color:#111;padding-top:1.4px;"><div>1,22</div></div>
<div class="c" style="left:340.10px;top:729.10px;width:98.90px;height:20.50px;background:transparent;color:#111;padding-top:1.4px;"><div>6,5</div></div>
<div class="c" style="left:439.00px;top:729.10px;width:98.40px;height:20.50px;background:transparent;color:#111;padding-top:1.4px;"><div>45</div></div>
<div class="c" style="left:537.40px;top:729.10px;width:98.60px;height:20.50px;background:transparent;color:#111;padding-top:1.4px;"><div>15~45</div></div>
<div class="c" style="left:636.00px;top:729.10px;width:98.80px;height:20.50px;background:transparent;color:#111;padding-top:1.4px;"><div>8</div></div>
<div class="c" style="left:71.90px;top:749.60px;width:92.85px;height:19.80px;background:transparent;color:#111;padding-top:1.4px;justify-content:flex-start;padding-left:2.2px;"><div>PRm405</div></div>
<div class="c" style="left:164.75px;top:749.60px;width:87.75px;height:19.80px;background:transparent;color:#111;padding-top:1.4px;"><div>1,1</div></div>
<div class="c" style="left:252.50px;top:749.60px;width:87.60px;height:19.80px;background:transparent;color:#111;padding-top:1.4px;"><div>1,5</div></div>
<div class="c" style="left:340.10px;top:749.60px;width:98.90px;height:19.80px;background:transparent;color:#111;padding-top:1.4px;"><div>6,5</div></div>
<div class="c" style="left:439.00px;top:749.60px;width:98.40px;height:19.80px;background:transparent;color:#111;padding-top:1.4px;"><div>57</div></div>
<div class="c" style="left:537.40px;top:749.60px;width:98.60px;height:19.80px;background:transparent;color:#111;padding-top:1.4px;"><div>20~57</div></div>
<div class="c" style="left:636.00px;top:749.60px;width:98.80px;height:19.80px;background:transparent;color:#111;padding-top:1.4px;"><div>8</div></div>
<div class="c" style="left:71.90px;top:769.40px;width:92.85px;height:19.90px;background:transparent;color:#111;padding-top:1.4px;justify-content:flex-start;padding-left:2.2px;"><div>PRm406</div></div>
<div class="c" style="left:164.75px;top:769.40px;width:87.75px;height:19.90px;background:transparent;color:#111;padding-top:1.4px;"><div>1,5</div></div>
<div class="c" style="left:252.50px;top:769.40px;width:87.60px;height:19.90px;background:transparent;color:#111;padding-top:1.4px;"><div>2,04</div></div>
<div class="c" style="left:340.10px;top:769.40px;width:98.90px;height:19.90px;background:transparent;color:#111;padding-top:1.4px;"><div>6,5</div></div>
<div class="c" style="left:439.00px;top:769.40px;width:98.40px;height:19.90px;background:transparent;color:#111;padding-top:1.4px;"><div>68</div></div>
<div class="c" style="left:537.40px;top:769.40px;width:98.60px;height:19.90px;background:transparent;color:#111;padding-top:1.4px;"><div>30~68</div></div>
<div class="c" style="left:636.00px;top:769.40px;width:98.80px;height:19.90px;background:transparent;color:#111;padding-top:1.4px;"><div>8</div></div>
</body></html>
